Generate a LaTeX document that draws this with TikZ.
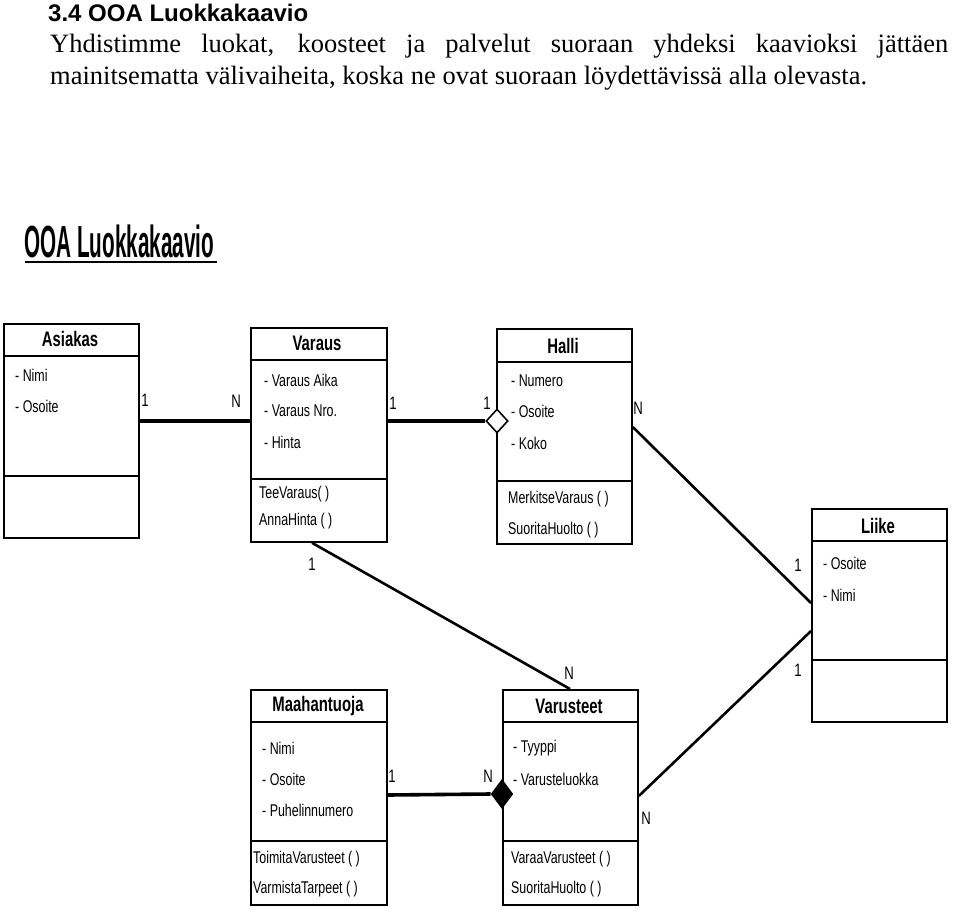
\documentclass[tikz,border=0pt]{standalone}
\usepackage{fontspec}
\setmainfont{Liberation Serif}
\setsansfont{Liberation Sans}
\usetikzlibrary{shapes.geometric}
\newcommand\cnd[1]{\scalebox{0.73}[1]{#1}}
\newcommand\cndh[1]{\scalebox{0.71}[1]{#1}}
\tikzset{
  cls/.style={draw, line width=1.8pt, anchor=north west, inner sep=0pt},
  sepline/.style={line width=1.8pt},
  hdr/.style={font=\fontsize{21}{21}\sffamily\bfseries, inner sep=0pt},
  attr/.style={font=\fontsize{17}{17}\sffamily, anchor=west, inner sep=0pt},
  mult/.style={font=\fontsize{18}{18}\sffamily, inner sep=0pt},
  assoc/.style={line width=3.6pt},
  link/.style={line width=2.6pt},
  body/.style={anchor=base west, inner sep=0pt, font=\fontsize{26.5}{32}\selectfont},
  odia/.style={diamond, draw, line width=1.6pt, fill=white, minimum width=22pt, minimum height=24pt, inner sep=0pt, aspect=0.9},
  fdia/.style={diamond, draw, line width=1.6pt, fill=black, minimum width=21pt, minimum height=28pt, inner sep=0pt, aspect=0.75},
}
\begin{document}
\begin{tikzpicture}[x=1pt,y=-1pt]
\useasboundingbox (0,0) rectangle (960,917);
% page text
\node[anchor=base west, inner sep=0pt, font=\fontsize{24}{24}\sffamily\bfseries] (sec) at (48,22) {3.4 OOA Luokkakaavio};
\node[body] (para1) at (50,53) {\makebox[898pt][s]{Yhdistimme luokat, koosteet ja palvelut suoraan yhdeksi kaavioksi jättäen}};
\node[body] (para2) at (50,85) {mainitsematta välivaiheita, koska ne ovat suoraan löydettävissä alla olevasta.};
% diagram title
\node[anchor=base west, inner sep=0pt, font=\fontsize{45}{45}\sffamily\bfseries] (title) at (24,257) {\scalebox{0.46}[1]{OOA Luokkakaavio}};
\draw[line width=1.8pt] (title.base west) ++(1,5) -- ++(192,0);

% ---- Asiakas
\node[cls, minimum width=135pt, minimum height=214pt] (asiakas) at (3,323) {};
\draw[sepline] ([yshift=-33pt]asiakas.north west) -- ([yshift=-33pt]asiakas.north east);
\draw[sepline] ([yshift=-153pt]asiakas.north west) -- ([yshift=-153pt]asiakas.north east);
\node[hdr] (asiakas-h) at (70,339) {\cndh{Asiakas}};
\node[attr] (asiakas-a1) at (15,375) {\cnd{- Nimi}};
\node[attr] (asiakas-a2) at (15,406) {\cnd{- Osoite}};

% ---- Varaus
\node[cls, minimum width=136pt, minimum height=214pt] (varaus) at (250,327) {};
\draw[sepline] ([yshift=-33pt]varaus.north west) -- ([yshift=-33pt]varaus.north east);
\draw[sepline] ([yshift=-152pt]varaus.north west) -- ([yshift=-152pt]varaus.north east);
\node[hdr] (varaus-h) at (317,343) {\cndh{Varaus}};
\node[attr] (varaus-a1) at (264,380) {\cnd{- Varaus Aika}};
\node[attr] (varaus-a2) at (264,411) {\cnd{- Varaus Nro.}};
\node[attr] (varaus-a3) at (264,442) {\cnd{- Hinta}};
\node[attr] (varaus-m1) at (259,494) {\cnd{TeeVaraus( )}};
\node[attr] (varaus-m2) at (259,521) {\cnd{AnnaHinta ( )}};

% ---- Halli
\node[cls, minimum width=135pt, minimum height=215pt] (halli) at (496,328) {};
\draw[sepline] ([yshift=-34pt]halli.north west) -- ([yshift=-34pt]halli.north east);
\draw[sepline] ([yshift=-153pt]halli.north west) -- ([yshift=-153pt]halli.north east);
\node[hdr] (halli-h) at (563,346) {\cndh{Halli}};
\node[attr] (halli-a1) at (511,381) {\cnd{- Numero}};
\node[attr] (halli-a2) at (511,411) {\cnd{- Osoite}};
\node[attr] (halli-a3) at (511,443) {\cnd{- Koko}};
\node[attr] (halli-m1) at (508,499) {\cnd{MerkitseVaraus ( )}};
\node[attr] (halli-m2) at (508,530) {\cnd{SuoritaHuolto ( )}};

% ---- Liike
\node[cls, minimum width=135pt, minimum height=213pt] (liike) at (811,508) {};
\draw[sepline] ([yshift=-33pt]liike.north west) -- ([yshift=-33pt]liike.north east);
\draw[sepline] ([yshift=-152pt]liike.north west) -- ([yshift=-152pt]liike.north east);
\node[hdr] (liike-h) at (878,526) {\cndh{Liike}};
\node[attr] (liike-a1) at (823,563) {\cnd{- Osoite}};
\node[attr] (liike-a2) at (823,595) {\cnd{- Nimi}};

% ---- Maahantuoja
\node[cls, minimum width=136pt, minimum height=215pt] (maahan) at (250,689) {};
\draw[sepline] ([yshift=-33pt]maahan.north west) -- ([yshift=-33pt]maahan.north east);
\draw[sepline] ([yshift=-152pt]maahan.north west) -- ([yshift=-152pt]maahan.north east);
\node[hdr] (maahan-h) at (318,706) {\cndh{Maahantuoja}};
\node[attr] (maahan-a1) at (262,748) {\cnd{- Nimi}};
\node[attr] (maahan-a2) at (262,779) {\cnd{- Osoite}};
\node[attr] (maahan-a3) at (262,810) {\cnd{- Puhelinnumero}};
\node[attr] (maahan-m1) at (253,859) {\cnd{ToimitaVarusteet ( )}};
\node[attr] (maahan-m2) at (253,889) {\cnd{VarmistaTarpeet ( )}};

% ---- Varusteet
\node[cls, minimum width=135pt, minimum height=215pt] (varust) at (502,689) {};
\draw[sepline] ([yshift=-33pt]varust.north west) -- ([yshift=-33pt]varust.north east);
\draw[sepline] ([yshift=-152pt]varust.north west) -- ([yshift=-152pt]varust.north east);
\node[hdr] (varust-h) at (569,706) {\cndh{Varusteet}};
\node[attr] (varust-a1) at (513,748) {\cnd{- Tyyppi}};
\node[attr] (varust-a2) at (513,779) {\cnd{- Varusteluokka}};
\node[attr] (varust-m1) at (511,859) {\cnd{VaraaVarusteet ( )}};
\node[attr] (varust-m2) at (511,889) {\cnd{SuoritaHuolto ( )}};

% ---- connectors
\draw[assoc] (asiakas.east |- 0,421) -- (varaus.west |- 0,421);
\node[odia] (agg) at (497,421) {};
\draw[assoc] (varaus.east |- 0,421) -- (agg.west);
\node[fdia] (comp) at (502,794) {};
\draw[assoc] (maahan.east |- 0,795) -- (comp.west);
\draw[link] (halli.east |- 0,427) -- (liike.west |- 0,603);
\draw[link] (varust.east |- 0,796) -- (liike.west |- 0,631);
\draw[link] (varaus.south -| 312,0) -- (varust.north -| 570,0);

% ---- multiplicities
\node[mult] (m1) at (145,400) {\cnd{1}};
\node[mult] (m2) at (236,401) {\cnd{N}};
\node[mult] (m3) at (393,403) {\cnd{1}};
\node[mult] (m4) at (487,403) {\cnd{1}};
\node[mult] (m5) at (638,408) {\cnd{N}};
\node[mult] (m6) at (798,565) {\cnd{1}};
\node[mult] (m7) at (798,670) {\cnd{1}};
\node[mult] (m8) at (312,564) {\cnd{1}};
\node[mult] (m9) at (569,673) {\cnd{N}};
\node[mult] (m10) at (392,776) {\cnd{1}};
\node[mult] (m11) at (488,776) {\cnd{N}};
\node[mult] (m12) at (646,818) {\cnd{N}};
\end{tikzpicture}
\end{document}
